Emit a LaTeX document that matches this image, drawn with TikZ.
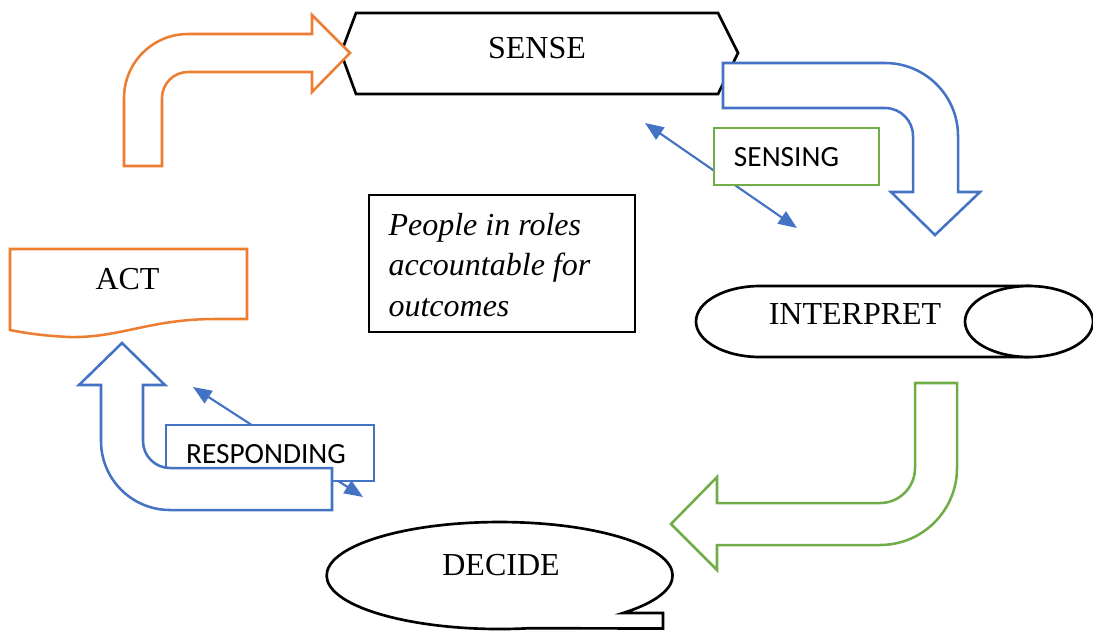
\documentclass[tikz,border=0pt]{standalone}
\usepackage{fontspec}
\setmainfont{Liberation Serif}
\newfontfamily\calibrifont{Carlito}
\usetikzlibrary{arrows.meta}

\definecolor{wordorange}{HTML}{ED7D31}
\definecolor{wordblue}{HTML}{4472C4}
\definecolor{wordgreen}{HTML}{70AD47}

\begin{document}
\begin{tikzpicture}[x=0.375pt,y=-0.375pt,
  blackshape/.style={draw=black,line width=1pt,fill=white,line join=miter},
  orangeshape/.style={draw=wordorange,line width=0.95pt,fill=white},
  blueshape/.style={draw=wordblue,line width=0.95pt,fill=white},
  greenshape/.style={draw=wordgreen,line width=0.95pt,fill=white},
  seriflabel/.style={font=\fontsize{12}{14}\selectfont,inner sep=0pt,anchor=base},
  sanslabel/.style={font=\calibrifont\fontsize{11}{13}\selectfont,inner sep=0pt,anchor=base},
  noteline/.style={font=\fontsize{12}{14}\selectfont\itshape,inner sep=0pt,anchor=base west},
  linkarrow/.style={draw=wordblue,line width=0.8pt,
    {Triangle[length=7pt,width=5.5pt]}-{Triangle[length=7pt,width=5.5pt]}}
]
\useasboundingbox (0,0) rectangle (1093,630);

% SENSE: hexagon
\path[blackshape] (341,53) -- (356,13) -- (718,13) -- (738,53) -- (718,94) -- (356,94) -- cycle;
\node[seriflabel] (sense) at (537,58) {SENSE};

% orange bent arrow into SENSE
\path[orangeshape] (124,166) -- (124,98) arc[start angle=180,end angle=270,radius=64]
  -- (312,34) -- (312,15) -- (350,53) -- (312,92) -- (312,72) -- (188,72)
  arc[start angle=270,end angle=180,radius=26] -- (162,166) -- cycle;

% blue bent arrow from SENSE down to INTERPRET
\path[blueshape] (723,63) -- (885,63) arc[start angle=270,end angle=360,radius=73]
  -- (958,192) -- (980,192) -- (935,235) -- (891,192) -- (913,192) -- (913,136)
  arc[start angle=0,end angle=-90,radius=28] -- (723,108) -- cycle;

% SENSING link and label box
\coordinate (senseA) at (645,123);
\coordinate (senseB) at (797,228);
\draw[linkarrow] (senseA) -- (senseB);
\path[greenshape] (714,128) rectangle (879,185);
\node[sanslabel] (sensing) at (786.5,166) {SENSING};

% central note
\path[draw=black,line width=0.6pt,fill=white] (369,195) rectangle (635,332);
\node[noteline] (note1) at (388,235) {People in roles};
\node[noteline] (note2) at (388,275.5) {accountable for};
\node[noteline] (note3) at (388,316) {outcomes};

% INTERPRET: horizontal cylinder
\path[blackshape] (1029,286) -- (760,286) arc[start angle=270,end angle=90,x radius=64,y radius=35.5]
  -- (1029,357) -- cycle;
\path[blackshape] (1029,321.5) ellipse[x radius=64,y radius=35.5];
\node[seriflabel] (interpret) at (855,324) {INTERPRET};

% green bent arrow from INTERPRET to DECIDE
\path[greenshape] (915,383) -- (957,383) -- (957,468) arc[start angle=0,end angle=90,radius=77]
  -- (717,545) -- (717,570) -- (671,524) -- (717,477) -- (717,503) -- (880,503)
  arc[start angle=90,end angle=0,radius=35] -- cycle;

% DECIDE: oval callout
\path[blackshape] (623,613) arc[start angle=44.5,end angle=-280,x radius=173,y radius=53.5]
  -- (663,628.5) -- (663,613) -- cycle;
\node[seriflabel] (decide) at (501,575) {DECIDE};

% ACT: document shape
\path[orangeshape] (10,249) -- (247,249) -- (247,319) -- (215,319)
  .. controls (150,319) and (120,338) .. (70,337)
  .. controls (45,336) and (25,333) .. (10,330) -- cycle;
\node[seriflabel] (act) at (127.5,289) {ACT};

% RESPONDING link, label box and U-turn arrow
\coordinate (respA) at (193,387);
\coordinate (respB) at (363,497);
\draw[linkarrow] (respA) -- (respB);
\path[blueshape] (166,425) rectangle (374,481);
\node[sanslabel] (responding) at (266,463) {RESPONDING};
\path[blueshape] (122,343) -- (165,385) -- (143,385) -- (143,441)
  arc[start angle=180,end angle=90,radius=27] -- (332,468) -- (332,510) -- (170,510)
  arc[start angle=90,end angle=180,radius=69] -- (101,385) -- (79,385) -- cycle;

\end{tikzpicture}
\end{document}
